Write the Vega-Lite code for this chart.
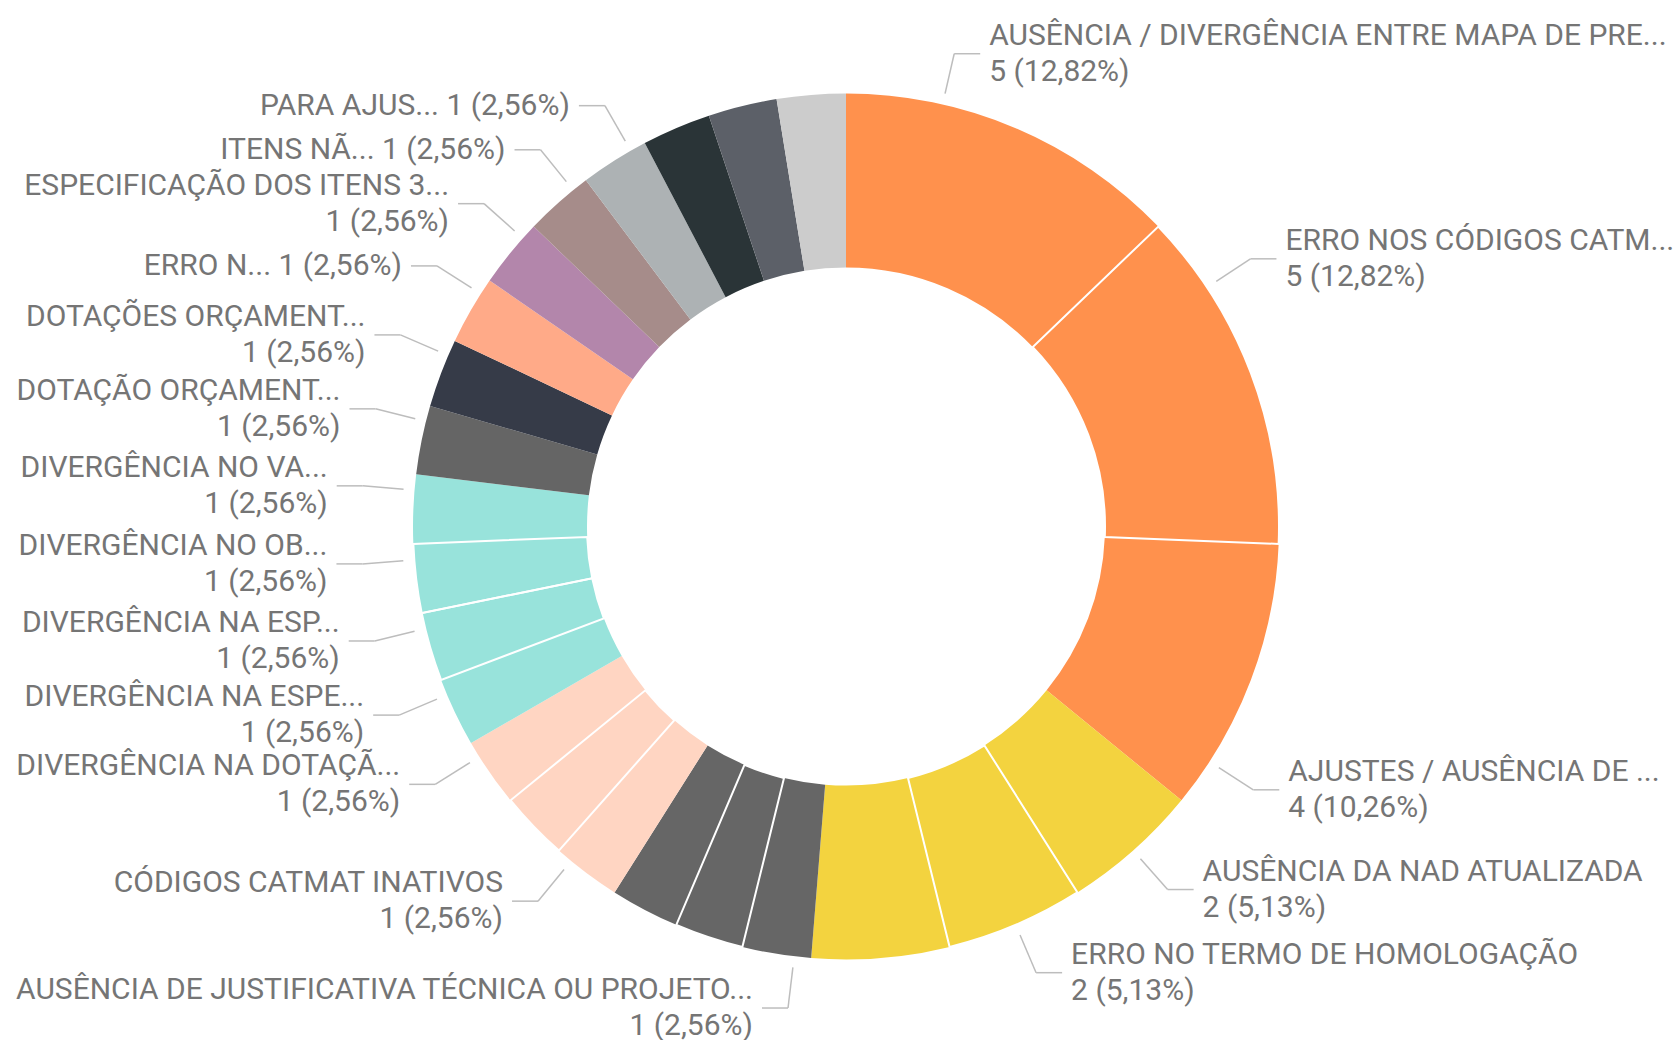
{
  "$schema": "https://vega.github.io/schema/vega-lite/v6.json",
  "width": 1664,
  "height": 1027,
  "autosize": {"type": "none"},
  "padding": {"left": 14, "top": 13, "right": 0, "bottom": 0},
  "background": "white",
  "config": {"view": {"stroke": null}},
  "data": {
    "values": [
      {"ord": 1, "motivo": "AUSÊNCIA / DIVERGÊNCIA ENTRE MAPA DE PRE...", "qtd": 5, "rotulado": true},
      {"ord": 2, "motivo": "ERRO NOS CÓDIGOS CATM...", "qtd": 5, "rotulado": true},
      {"ord": 3, "motivo": "AJUSTES / AUSÊNCIA DE ...", "qtd": 4, "rotulado": true},
      {"ord": 4, "motivo": "AUSÊNCIA DA NAD ATUALIZADA", "qtd": 2, "rotulado": true},
      {"ord": 5, "motivo": "ERRO NO TERMO DE HOMOLOGAÇÃO", "qtd": 2, "rotulado": true},
      {"ord": 6, "motivo": "(sem rótulo 1)", "qtd": 2, "rotulado": false},
      {"ord": 7, "motivo": "AUSÊNCIA DE JUSTIFICATIVA TÉCNICA OU PROJETO...", "qtd": 1, "rotulado": true},
      {"ord": 8, "motivo": "(sem rótulo 2)", "qtd": 1, "rotulado": false},
      {"ord": 9, "motivo": "(sem rótulo 3)", "qtd": 1, "rotulado": false},
      {"ord": 10, "motivo": "CÓDIGOS CATMAT INATIVOS", "qtd": 1, "rotulado": true},
      {"ord": 11, "motivo": "(sem rótulo 4)", "qtd": 1, "rotulado": false},
      {"ord": 12, "motivo": "DIVERGÊNCIA NA DOTAÇÃ...", "qtd": 1, "rotulado": true},
      {"ord": 13, "motivo": "DIVERGÊNCIA NA ESPE...", "qtd": 1, "rotulado": true},
      {"ord": 14, "motivo": "DIVERGÊNCIA NA ESP...", "qtd": 1, "rotulado": true},
      {"ord": 15, "motivo": "DIVERGÊNCIA NO OB...", "qtd": 1, "rotulado": true},
      {"ord": 16, "motivo": "DIVERGÊNCIA NO VA...", "qtd": 1, "rotulado": true},
      {"ord": 17, "motivo": "DOTAÇÃO ORÇAMENT...", "qtd": 1, "rotulado": true},
      {"ord": 18, "motivo": "DOTAÇÕES ORÇAMENT...", "qtd": 1, "rotulado": true},
      {"ord": 19, "motivo": "ERRO N...", "qtd": 1, "rotulado": true},
      {"ord": 20, "motivo": "ESPECIFICAÇÃO DOS ITENS 3...", "qtd": 1, "rotulado": true},
      {"ord": 21, "motivo": "ITENS NÃ...", "qtd": 1, "rotulado": true},
      {"ord": 22, "motivo": "PARA AJUS...", "qtd": 1, "rotulado": true},
      {"ord": 23, "motivo": "(sem rótulo 5)", "qtd": 1, "rotulado": false},
      {"ord": 24, "motivo": "(sem rótulo 6)", "qtd": 1, "rotulado": false},
      {"ord": 25, "motivo": "(sem rótulo 7)", "qtd": 1, "rotulado": false}
    ]
  },
  "layer": [
    {
      "mark": {"type": "arc", "innerRadius": 259, "outerRadius": 433},
      "encoding": {
        "theta": {"field": "qtd", "type": "quantitative", "stack": true},
        "order": {"field": "ord", "type": "quantitative"},
        "color": {
          "field": "motivo",
          "type": "nominal",
          "legend": null,
          "scale": {
            "domain": [
              "AUSÊNCIA / DIVERGÊNCIA ENTRE MAPA DE PRE...", "ERRO NOS CÓDIGOS CATM...", "AJUSTES / AUSÊNCIA DE ...",
              "AUSÊNCIA DA NAD ATUALIZADA", "ERRO NO TERMO DE HOMOLOGAÇÃO", "(sem rótulo 1)",
              "AUSÊNCIA DE JUSTIFICATIVA TÉCNICA OU PROJETO...", "(sem rótulo 2)", "(sem rótulo 3)",
              "CÓDIGOS CATMAT INATIVOS", "(sem rótulo 4)", "DIVERGÊNCIA NA DOTAÇÃ...",
              "DIVERGÊNCIA NA ESPE...", "DIVERGÊNCIA NA ESP...", "DIVERGÊNCIA NO OB...", "DIVERGÊNCIA NO VA...",
              "DOTAÇÃO ORÇAMENT...", "DOTAÇÕES ORÇAMENT...", "ERRO N...", "ESPECIFICAÇÃO DOS ITENS 3...",
              "ITENS NÃ...", "PARA AJUS...", "(sem rótulo 5)", "(sem rótulo 6)", "(sem rótulo 7)"
            ],
            "range": [
              "#FF914D", "#FF914D", "#FF914D",
              "#F3D33F", "#F3D33F", "#F3D33F",
              "#666666", "#666666", "#666666",
              "#FFD5C2", "#FFD5C2", "#FFD5C2",
              "#98E3DB", "#98E3DB", "#98E3DB", "#98E3DB",
              "#656565", "#363B48", "#FFAA88", "#B386AB",
              "#A68C8A", "#ADB2B4", "#2A3437", "#5C6068", "#CCCCCC"
            ]
          }
        }
      }
    },
    {
      "mark": {"type": "arc", "innerRadius": 259, "outerRadius": 433, "fillOpacity": 0, "stroke": "white"},
      "encoding": {
        "theta": {"field": "qtd", "type": "quantitative", "stack": true},
        "order": {"field": "ord", "type": "quantitative"},
        "strokeWidth": {"condition": {"test": "indexof([2, 5, 8, 11, 14, 15], datum.ord) >= 0", "value": 2}, "value": 0}
      }
    },
    {
      "transform": [
        {"joinaggregate": [{"op": "sum", "field": "qtd", "as": "total"}]},
        {"window": [{"op": "sum", "field": "qtd", "as": "acum"}], "sort": [{"field": "ord", "order": "ascending"}], "frame": [null, 0]},
        {"filter": "datum.rotulado"},
        {"calculate": "(datum.acum - datum.qtd / 2) / datum.total * 360", "as": "meio"},
        {"calculate": "datum.meio > 180 ? -1 : 1", "as": "lado"},
        {"calculate": "replace(format(datum.qtd / datum.total, '.2%'), '.', ',')", "as": "pct"},
        {"calculate": "datum.qtd + ' (' + datum.pct + ')'", "as": "valor"},
        {"calculate": "length(datum.motivo) <= 12", "as": "umalinha"},
        {"calculate": "datum.umalinha ? datum.motivo + ' ' + datum.valor : datum.motivo", "as": "linha1"},
        {"calculate": "length(replace(datum.linha1, regexp('[^ I./,()]', 'g'), ''))", "as": "nestreito"},
        {"calculate": "30 * (0.635 * (length(datum.linha1) - datum.nestreito) + 0.27 * datum.nestreito)", "as": "larg"},
        {"calculate": "datum.lado < 0 ? datum.meio + 2.5 : datum.meio", "as": "ang0"},
        {"calculate": "((datum.lado > 0 ? 785 : 811) - datum.larg) / 485", "as": "smax"},
        {"calculate": "asin(max(-1, min(1, datum.smax))) * 180 / PI", "as": "amax"},
        {"calculate": "datum.lado > 0 ? (datum.ang0 < 90 ? min(datum.ang0, datum.amax) : max(datum.ang0, 180 - datum.amax)) : (datum.ang0 > 270 ? max(datum.ang0, 360 - datum.amax) : min(datum.ang0, 180 + datum.amax))", "as": "ang"},
        {"calculate": "datum.ang * PI / 180", "as": "rad"},
        {"calculate": "444 * sin(datum.rad)", "as": "ax"},
        {"calculate": "444 * cos(datum.rad)", "as": "ay"},
        {"calculate": "485 * sin(datum.rad)", "as": "bx"},
        {"calculate": "485 * cos(datum.rad)", "as": "by"},
        {"calculate": "datum.bx + 26 * datum.lado", "as": "cx"},
        {"calculate": "datum.bx + 35 * datum.lado", "as": "tx"},
        {"calculate": "datum.umalinha ? datum.by : datum.by + 18", "as": "ty"},
        {"calculate": "datum.umalinha ? [datum.linha1] : [datum.motivo, datum.valor]", "as": "texto"}
      ],
      "layer": [
        {
          "mark": {"type": "rule", "color": "#BDBDBD", "strokeWidth": 1.5},
          "encoding": {
            "x": {"field": "ax", "type": "quantitative", "scale": {"domain": [-832, 832], "nice": false, "zero": false}, "axis": null},
            "y": {"field": "ay", "type": "quantitative", "scale": {"domain": [-513.5, 513.5], "nice": false, "zero": false}, "axis": null},
            "x2": {"field": "bx"},
            "y2": {"field": "by"}
          }
        },
        {
          "mark": {"type": "rule", "color": "#BDBDBD", "strokeWidth": 1.5},
          "encoding": {
            "x": {"field": "bx", "type": "quantitative", "scale": {"domain": [-832, 832], "nice": false, "zero": false}, "axis": null},
            "y": {"field": "by", "type": "quantitative", "scale": {"domain": [-513.5, 513.5], "nice": false, "zero": false}, "axis": null},
            "x2": {"field": "cx"},
            "y2": {"field": "by"}
          }
        },
        {
          "transform": [{"filter": "datum.lado > 0"}],
          "mark": {"type": "text", "align": "left", "baseline": "middle", "font": "Roboto", "fontSize": 30, "lineHeight": 36, "color": "#757575"},
          "encoding": {
            "x": {"field": "tx", "type": "quantitative", "scale": {"domain": [-832, 832], "nice": false, "zero": false}, "axis": null},
            "y": {"field": "ty", "type": "quantitative", "scale": {"domain": [-513.5, 513.5], "nice": false, "zero": false}, "axis": null},
            "text": {"field": "texto", "type": "nominal"}
          }
        },
        {
          "transform": [{"filter": "datum.lado < 0"}],
          "mark": {"type": "text", "align": "right", "baseline": "middle", "font": "Roboto", "fontSize": 30, "lineHeight": 36, "color": "#757575"},
          "encoding": {
            "x": {"field": "tx", "type": "quantitative", "scale": {"domain": [-832, 832], "nice": false, "zero": false}, "axis": null},
            "y": {"field": "ty", "type": "quantitative", "scale": {"domain": [-513.5, 513.5], "nice": false, "zero": false}, "axis": null},
            "text": {"field": "texto", "type": "nominal"}
          }
        }
      ]
    }
  ]
}
